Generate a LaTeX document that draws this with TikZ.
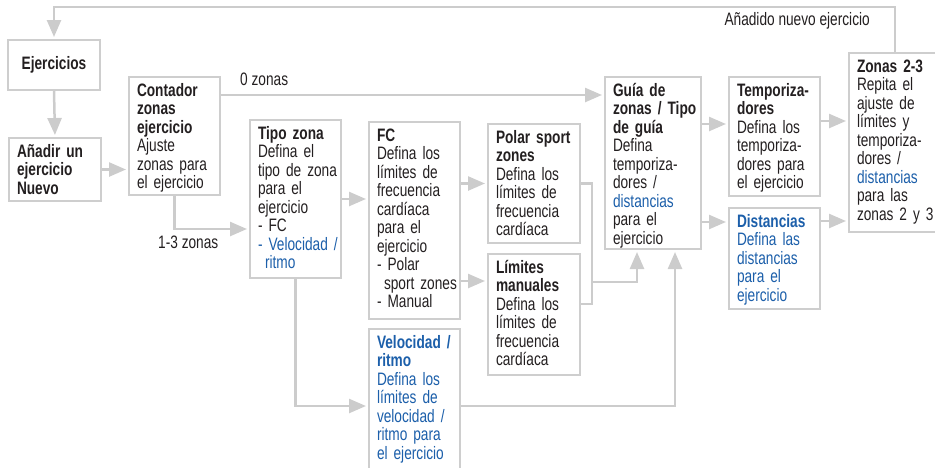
\documentclass[tikz,border=0pt]{standalone}
\usepackage{fontspec}
\setmainfont{Liberation Sans}[FakeStretch=0.76]
\usetikzlibrary{arrows.meta}
\definecolor{boxgray}{RGB}{206,206,206}
\definecolor{lngray}{RGB}{204,204,204}
\definecolor{txt}{RGB}{35,31,32}
\definecolor{blu}{RGB}{28,95,170}
\newcommand\fs{\fontsize{18pt}{18.5pt}\selectfont\hyphenpenalty=10000\exhyphenpenalty=10000\hbadness=10000\hfuzz=50pt}
\newcommand\bl[1]{\textcolor{blu}{#1}}
\tikzset{
  box/.style={draw=boxgray, line width=2pt, anchor=north west, align=left,
    inner xsep=8pt, inner ysep=6pt, text height=13pt, font=\fs, text=txt},
  lbl/.style={font=\fs, text=txt, inner sep=0pt},
  conn/.style={draw=lngray, line width=2.5pt},
  arr/.style={conn, -{Triangle[length=17pt,width=14pt]}, shorten >=2pt},
}
\newcommand\mkbox[6]{\node[box, text width=#4pt, text depth=#5pt] (#1) at (#2,#3) {#6};}
\begin{document}
\begin{tikzpicture}[x=1pt,y=-1pt]
\useasboundingbox (0,0) rectangle (935,467);
% boxes
\node[draw=boxgray, line width=2pt, minimum width=92pt, minimum height=50pt, font=\fs, text=txt, inner sep=0pt] (ej) at (54,65) {\textbf{Ejercicios}};
\mkbox{an}{8}{137}{76}{38}{\textbf{Añadir~un\\ejercicio\\Nuevo}}
\mkbox{ct}{128}{76}{75}{93}{\textbf{Contador\\zonas\\ejercicio}\\Ajuste\\zonas~para\\el~ejercicio}
\mkbox{tz}{249}{119}{75}{133}{\textbf{Tipo~zona}\\Defina~el\\tipo~de~zona\\para~el\\ejercicio\\-~FC\\\bl{-~Velocidad~/}\\\bl{\hspace*{7pt}ritmo}}
\mkbox{fc}{368}{121}{75}{172}{\textbf{FC}\\Defina~los\\límites~de\\frecuencia\\cardíaca\\para~el\\ejercicio\\-~Polar\\\hspace*{7pt}sport~zones\\-~Manual}
\mkbox{ps}{487}{123}{76}{94}{\textbf{Polar~sport\\zones}\\Defina~los\\límites~de\\frecuencia\\cardíaca}
\mkbox{lm}{487}{253}{76}{96}{\textbf{Límites\\manuales}\\Defina~los\\límites~de\\frecuencia\\cardíaca}
\mkbox{vr}{368}{328}{75}{125}{\bl{\textbf{Velocidad~/\\ritmo}}\\\bl{Defina~los}\\\bl{límites~de}\\\bl{velocidad~/}\\\bl{ritmo~para}\\\bl{el~ejercicio}}
\mkbox{gz}{604}{76}{80}{147}{\textbf{Guía~de\\zonas~/~Tipo\\de~guía}\\Defina\\temporiza-\\dores~/\\\bl{distancias}\\para~el\\ejercicio}
\mkbox{tp}{728}{76}{75}{94}{\textbf{Temporiza-\\dores}\\Defina~los\\temporiza-\\dores~para\\el~ejercicio}
\mkbox{ds}{728}{207}{75}{76}{\bl{\textbf{Distancias}}\\\bl{Defina~las}\\\bl{distancias}\\\bl{para~el}\\\bl{ejercicio}}
\mkbox{z23}{848}{52}{76}{154}{\textbf{Zonas~2-3}\\Repita~el\\ajuste~de\\límites~y\\temporiza-\\dores~/\\\bl{distancias}\\para~las\\zonas~2~y~3}
% labels
\node[lbl, anchor=base west] (l0) at (240,85) {0 zonas};
\node[lbl, anchor=base west] (l13) at (158,248) {1-3 zonas};
\node[lbl, anchor=base east] (ladd) at (870,25) {Añadido nuevo ejercicio};
% helper coordinates
\coordinate (topy) at (0,7);
\coordinate (jx) at (592,0);
\coordinate (jn) at (592,282);
\coordinate (ctout) at ([yshift=-19pt]ct.north east);
\coordinate (gzin0) at ([yshift=-19pt]gz.north west);
\coordinate (tzin) at ([yshift=-30pt]tz.west);
\coordinate (vrin) at ([yshift=-78pt]vr.north west);
\coordinate (vrout) at ([yshift=-78pt]vr.north east);
\coordinate (lmin) at ([yshift=-28pt]lm.north west);
\coordinate (lmout) at ([yshift=-51pt]lm.north east);
\coordinate (gzin1) at ([xshift=33pt]gz.south west);
\coordinate (gzin2) at ([xshift=-27pt]gz.south east);
\coordinate (tpin) at ([yshift=-48pt]tp.north west);
\coordinate (dsin) at ([yshift=-15pt]ds.north west);
\coordinate (tpout) at ([yshift=-45pt]tp.north east);
\coordinate (dsout) at ([yshift=-14pt]ds.north east);
% connectors
\draw[arr] (z23.north) -- (z23.north |- topy) -- (ej.north |- topy) -- (ej.north);
\draw[arr] (ej.south) -- (an.north);
\draw[arr] (an.east) -- (an.east -| ct.west);
\draw[arr] (ctout) -- (gzin0);
\draw[arr] (ct.south) |- (tzin);
\draw[arr] (tz.east) -- (tz.east -| fc.west);
\draw[arr] (tz.south) |- (vrin);
\draw[arr] (ps.west -| fc.east) -- (ps.west);
\draw[arr] (lmin -| fc.east) -- (lmin);
\draw[conn] (ps.east) -| (jx |- lmout) -- (lmout);
\draw[arr] (jn) -| (gzin1);
\draw[arr] (vrout) -| (gzin2);
\draw[arr] (tpin -| gz.east) -- (tpin);
\draw[arr] (dsin -| gz.east) -- (dsin);
\draw[arr] (tpout) -- (tpout -| z23.west);
\draw[arr] (dsout) -- (dsout -| z23.west);
\end{tikzpicture}
\end{document}
